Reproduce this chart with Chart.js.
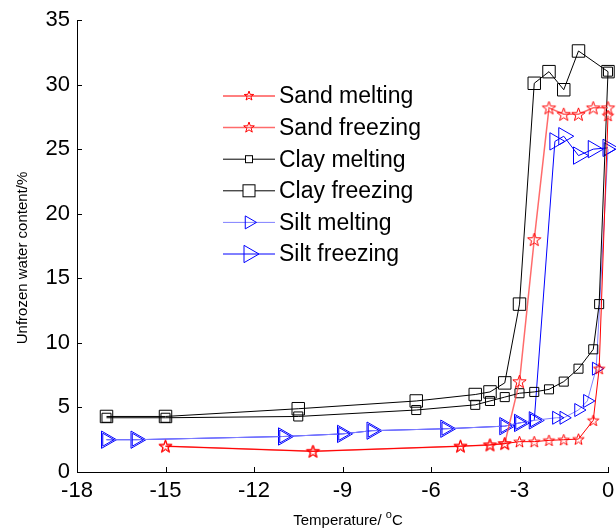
<!DOCTYPE html>
<html>
<head>
<meta charset="utf-8">
<script src="https://cdn.jsdelivr.net/npm/chart.js@4"></script>
<style>
html, body { margin: 0; padding: 0; background: #fff; }
#wrap { width: 616px; height: 531px; }
</style>
</head>
<body>
<div id="wrap"><canvas id="chart" width="616" height="531"></canvas></div>
<script>
// Values (temperature in degC, unfrozen water content in %)
const tempTicks = [-18, -15, -12, -9, -6, -3, 0];
const waterTicks = [0, 5, 10, 15, 20, 25, 30, 35];

const sandMeltT = [-15, -10, -5, -4, -3.5, -3, -2.5, -2, -1.5, -1, -0.5, -0.3, 0];
const sandMeltW = [2.0, 1.6, 2.0, 2.1, 2.2, 2.35, 2.35, 2.45, 2.5, 2.55, 4.0, 8.0, 27.6];

const sandFreezeT = [-15, -10, -5, -4, -3.5, -3, -2.5, -2, -1.5, -1, -0.5, 0];
const sandFreezeW = [2.0, 1.6, 2.0, 2.1, 2.2, 7.0, 18.0, 28.2, 27.7, 27.7, 28.2, 28.2];

const clayMeltT = [-17, -15, -10.5, -6.5, -4.5, -4, -3.5, -3, -2.5, -2, -1.5, -1, -0.5, -0.3, 0];
const clayMeltW = [4.2, 4.2, 4.3, 4.8, 5.2, 5.5, 5.8, 6.1, 6.2, 6.4, 7.0, 8.0, 9.5, 13.0, 31.0];

const clayFreezeT = [-17, -15, -10.5, -6.5, -4.5, -4, -3.5, -3, -2.5, -2, -1.5, -1, 0];
const clayFreezeW = [4.3, 4.3, 4.9, 5.5, 6.0, 6.2, 6.9, 13.0, 30.1, 31.0, 29.6, 32.6, 31.0];

const siltMeltT = [-17, -16, -11, -9, -8, -5.5, -3.5, -3, -2.5, -1.75, -1.5, -1, -0.7, -0.4, 0];
const siltMeltW = [2.5, 2.5, 2.75, 2.95, 3.2, 3.35, 3.55, 3.8, 4.0, 4.2, 4.2, 4.8, 5.5, 8.0, 25.0];

const siltFreezeT = [-17, -16, -11, -9, -8, -5.5, -3.5, -3, -2.5, -1.8, -1.5, -1, -0.5, 0];
const siltFreezeW = [2.5, 2.5, 2.75, 2.95, 3.2, 3.35, 3.55, 3.8, 4.0, 25.6, 26.0, 24.5, 25.0, 25.1];

const seriesNames = ['Sand melting', 'Sand freezing', 'Clay melting', 'Clay freezing', 'Silt melting', 'Silt freezing'];

const FONT = "'Liberation Sans', Arial, sans-serif";

function zip(xs, ys) {
    return xs.map((x, i) => ({ x: x, y: ys[i] }));
}

// outlined five point star like the matlab pentagram marker
function drawStar(g, cx, cy, r, color) {
    const ri = r * 0.4;
    g.beginPath();
    for (let i = 0; i < 10; i++) {
        const a = -Math.PI / 2 + i * Math.PI / 5;
        const rr = i % 2 ? ri : r;
        g.lineTo(cx + rr * Math.cos(a), cy + rr * Math.sin(a));
    }
    g.closePath();
    g.strokeStyle = color;
    g.lineWidth = 1;
    g.stroke();
}

function makeStar(r, color) {
    const s = Math.ceil(r * 2 + 3);
    const c = document.createElement('canvas');
    c.width = s;
    c.height = s;
    drawStar(c.getContext('2d'), s / 2, s / 2 + 0.5, r, color);
    return c;
}

function drawTriRight(g, cx, cy, r, color) {
    g.beginPath();
    g.moveTo(cx + r, cy);
    g.lineTo(cx - r / 2, cy - r * Math.sqrt(3) / 2);
    g.lineTo(cx - r / 2, cy + r * Math.sqrt(3) / 2);
    g.closePath();
    g.strokeStyle = color;
    g.lineWidth = 1;
    g.stroke();
}

const starSmall = makeStar(6, '#ff0000');
const starLarge = makeStar(7, '#ff0000');

const lineColors = ['#ff0000', 'rgba(255,70,70,0.8)', '#000000', '#000000', '#8080ff', '#0000ff'];
const lineWidths = [1, 1.5, 1, 1, 1, 1];

// legend drawn inside the plot, matlab style
const legendPlugin = {
    id: 'insideLegend',
    afterDraw(chart) {
        const g = chart.ctx;
        const x0 = 223, x1 = 275, mx = 249, tx = 279;
        g.save();
        seriesNames.forEach((name, i) => {
            const y = 96 + i * 31.6;
            g.beginPath();
            g.moveTo(x0, y);
            g.lineTo(x1, y);
            g.strokeStyle = lineColors[i];
            g.lineWidth = lineWidths[i];
            g.stroke();
            if (i === 0) drawStar(g, mx, y, 5, '#ff0000');
            if (i === 1) drawStar(g, mx, y, 5.6, '#ff0000');
            if (i === 2 || i === 3) {
                const s = i === 2 ? 7 : 12;
                g.fillStyle = '#fff';
                g.fillRect(mx - s / 2, y - s / 2, s, s);
                g.strokeStyle = '#000';
                g.lineWidth = 1;
                g.strokeRect(mx - s / 2, y - s / 2, s, s);
            }
            if (i === 4) drawTriRight(g, mx, y, 7.5, '#0000ff');
            if (i === 5) drawTriRight(g, mx, y, 10, '#0000ff');
            g.fillStyle = '#000';
            g.font = '23px ' + FONT;
            g.textAlign = 'left';
            g.textBaseline = 'middle';
            g.fillText(name, tx, y + 1);
        });
        g.restore();
    }
};

// inward tick marks and axis titles
const axesPlugin = {
    id: 'matlabAxes',
    afterDraw(chart) {
        const g = chart.ctx;
        const xs = chart.scales.x, ys = chart.scales.y;
        const area = chart.chartArea;
        g.save();
        g.strokeStyle = '#000';
        g.lineWidth = 1;
        g.beginPath();
        tempTicks.forEach(v => {
            const px = Math.round(xs.getPixelForValue(v)) + 0.5;
            g.moveTo(px, area.bottom);
            g.lineTo(px, area.bottom - 5);
        });
        waterTicks.forEach(v => {
            const py = Math.round(ys.getPixelForValue(v)) + 0.5;
            g.moveTo(area.left, py);
            g.lineTo(area.left + 5, py);
        });
        g.stroke();

        g.fillStyle = '#000';
        g.textBaseline = 'alphabetic';

        // x title with superscript o
        const main = 'Temperature/ ';
        g.font = '15px ' + FONT;
        const w1 = g.measureText(main).width;
        g.font = '11px ' + FONT;
        const w2 = g.measureText('o').width;
        g.font = '15px ' + FONT;
        const w3 = g.measureText('C').width;
        let x = 348 - (w1 + w2 + w3) / 2;
        const base = 525;
        g.textAlign = 'left';
        g.fillText(main, x, base);
        x += w1;
        g.font = '11px ' + FONT;
        g.fillText('o', x, base - 7);
        x += w2;
        g.font = '15px ' + FONT;
        g.fillText('C', x, base);

        // y title
        g.translate(27, 258);
        g.rotate(-Math.PI / 2);
        g.textAlign = 'center';
        g.font = '15px ' + FONT;
        g.fillText('Unfrozen water content/%', 0, 0);
        g.restore();
    }
};

const datasets = [
    {
        label: seriesNames[0],
        data: zip(sandMeltT, sandMeltW),
        borderColor: lineColors[0],
        borderWidth: lineWidths[0],
        pointStyle: starSmall,
        pointRadius: 6
    },
    {
        label: seriesNames[1],
        data: zip(sandFreezeT, sandFreezeW),
        borderColor: lineColors[1],
        borderWidth: lineWidths[1],
        pointStyle: starLarge,
        pointRadius: 7
    },
    {
        label: seriesNames[2],
        data: zip(clayMeltT, clayMeltW),
        borderColor: lineColors[2],
        borderWidth: lineWidths[2],
        pointStyle: 'rect',
        pointRadius: 6.4,
        pointBorderColor: '#000',
        pointBackgroundColor: 'rgba(0,0,0,0)'
    },
    {
        label: seriesNames[3],
        data: zip(clayFreezeT, clayFreezeW),
        borderColor: lineColors[3],
        borderWidth: lineWidths[3],
        pointStyle: 'rect',
        pointRadius: 8.8,
        pointBorderColor: '#000',
        pointBackgroundColor: 'rgba(0,0,0,0)'
    },
    {
        label: seriesNames[4],
        data: zip(siltMeltT, siltMeltW),
        borderColor: lineColors[4],
        borderWidth: lineWidths[4],
        pointStyle: 'triangle',
        pointRotation: 90,
        pointRadius: 7.5,
        pointBorderColor: '#0000ff',
        pointBackgroundColor: 'rgba(0,0,0,0)'
    },
    {
        label: seriesNames[5],
        data: zip(siltFreezeT, siltFreezeW),
        borderColor: lineColors[5],
        borderWidth: lineWidths[5],
        pointStyle: 'triangle',
        pointRotation: 90,
        pointRadius: 10,
        pointBorderColor: '#0000ff',
        pointBackgroundColor: 'rgba(0,0,0,0)'
    }
];

datasets.forEach(d => {
    d.fill = false;
    d.tension = 0;
    d.pointBorderWidth = 1;
    d.clip = false;
});

new Chart(document.getElementById('chart'), {
    type: 'line',
    data: { datasets: datasets },
    plugins: [legendPlugin, axesPlugin],
    options: {
        responsive: false,
        animation: false,
        devicePixelRatio: 1,
        layout: {
            autoPadding: false,
            padding: { left: 0, right: 8, top: 20, bottom: 0 }
        },
        plugins: {
            legend: { display: false },
            tooltip: { enabled: false }
        },
        scales: {
            x: {
                type: 'linear',
                min: -18,
                max: 0,
                afterBuildTicks(s) { s.ticks = tempTicks.map(v => ({ value: v })); },
                afterFit(s) {
                    s.height = 59;
                    s.paddingLeft = 0;
                    s.paddingRight = 0;
                },
                ticks: {
                    font: { family: FONT, size: 22 },
                    color: '#000',
                    padding: 6,
                    maxRotation: 0,
                    autoSkip: false
                },
                grid: { display: false, drawTicks: false },
                border: { display: true, color: '#000', width: 1 }
            },
            y: {
                min: 0,
                max: 35,
                afterBuildTicks(s) { s.ticks = waterTicks.map(v => ({ value: v })); },
                afterFit(s) {
                    s.width = 77;
                    s.paddingTop = 0;
                    s.paddingBottom = 0;
                },
                ticks: {
                    font: { family: FONT, size: 22 },
                    color: '#000',
                    padding: 7
                },
                grid: { display: false, drawTicks: false },
                border: { display: true, color: '#000', width: 1 }
            }
        }
    }
});
</script>
</body>
</html>
